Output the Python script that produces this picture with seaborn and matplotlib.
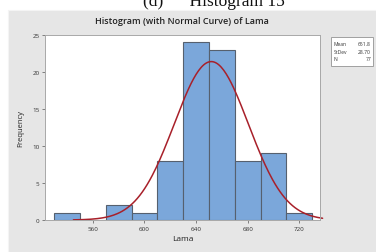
import numpy as np
import pandas as pd
import matplotlib.pyplot as plt
import matplotlib.patches as mpatches
import seaborn as sns

# Histogram bins (center values) and counts
bin_centers = [540, 560, 580, 600, 620, 640, 660, 680, 700, 720]
counts = [1, 0, 2, 1, 8, 24, 23, 8, 9, 1]
bin_width = 20

# Summary statistics shown in the legend box
mean_val = 651.8
sd_val = 28.70
n_obs = 77

x_ticks = [560, 600, 640, 680, 720]
y_ticks = [0, 5, 10, 15, 20, 25]

sns.set_theme(style='white')
plt.rcParams['font.family'] = ['Open Sans', 'DejaVu Sans']

panel_gray = '#e6e6e6'
fig = plt.figure(figsize=(3.76, 2.53), dpi=100)
fig.patch.set_facecolor('white')

# gray panel behind the chart
fig.patches.append(mpatches.Rectangle((8 / 376, 0), 1, 1 - 11 / 253,
                                      transform=fig.transFigure,
                                      facecolor=panel_gray, edgecolor='#f4f4f4',
                                      linewidth=0.8, zorder=-5))

# cut-off caption above the panel
fig.text(214 / 376, 1 - 6 / 253, '(d)      Histogram 15', family='Liberation Serif',
         fontsize=12.5, ha='center', va='baseline', color='#111111')

ax = fig.add_axes([45 / 376, 1 - 221 / 253, 275 / 376, 185 / 253])
ax.set_facecolor('white')

df = pd.DataFrame({'Lama': bin_centers, 'count': counts})
sns.histplot(data=df, x='Lama', weights='count', binwidth=bin_width,
             binrange=(bin_centers[0] - bin_width / 2, bin_centers[-1] + bin_width / 2),
             ax=ax, color='#7ba7da', edgecolor='#56606e', linewidth=0.8, alpha=1)

# fitted normal curve scaled to counts
xs = np.linspace(545, 738, 200)
ys = n_obs * bin_width * np.exp(-0.5 * ((xs - mean_val) / sd_val) ** 2) / (sd_val * np.sqrt(2 * np.pi))
sns.lineplot(x=xs, y=ys, ax=ax, color='#a8202a', linewidth=1.1, clip_on=False)

ax.set_xlim(523, 736)
ax.set_ylim(0, 25)
ax.set_xticks(x_ticks)
ax.set_yticks(y_ticks)
ax.tick_params(axis='both', labelsize=4.5, colors='#555555', length=2,
               width=0.5, direction='out', pad=2, bottom=True, left=True)
for lab in ax.get_xticklabels() + ax.get_yticklabels():
    lab.set_color('#333333')
for s in ax.spines.values():
    s.set_color('#a8a8a8')
    s.set_linewidth(0.7)
ax.set_xlabel('Lama', fontsize=6, color='#222222', labelpad=3)
ax.set_ylabel('Frequency', fontsize=5.5, color='#222222', labelpad=6)

fig.text(182 / 376, 1 - 22 / 253, 'Histogram (with Normal Curve) of Lama',
         fontsize=6.5, fontweight='semibold', ha='center', va='center',
         color='#222222')

# legend box with statistics
fig.patches.append(mpatches.Rectangle((331 / 376, 1 - 67 / 253), 42 / 376, 29 / 253,
                                      transform=fig.transFigure, facecolor='white',
                                      edgecolor='#a0a0a0', linewidth=0.7, zorder=2))
rows = [('Mean', f'{mean_val:.1f}'), ('StDev', f'{sd_val:.2f}'), ('N', f'{n_obs}')]
for i, (k, v) in enumerate(rows):
    yy = 1 - (44 + i * 8) / 253
    fig.text(334 / 376, yy, k, fontsize=3.6, ha='left', va='center', color='#333333', zorder=3)
    fig.text(371 / 376, yy, v, fontsize=3.6, ha='right', va='center', color='#333333', zorder=3)

fig.savefig('out.png', dpi=100)
